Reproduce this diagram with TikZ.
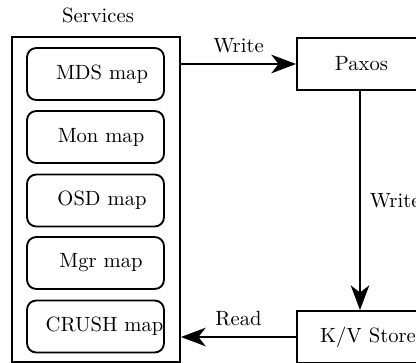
\documentclass[tikz,border=0pt]{standalone}
\usetikzlibrary{arrows.meta}
\begin{document}
\begin{tikzpicture}[x=0.485pt,y=-0.485pt,
  frame/.style={draw,line width=0.9pt,inner sep=0pt},
  mapbox/.style={frame,rounded corners=4.5pt,minimum width=137*0.485pt,minimum height=52*0.485pt},
  bigbox/.style={frame,minimum width=126*0.485pt,minimum height=52*0.485pt},
  txt/.style={inner sep=0pt,font=\normalsize},
  arr/.style={line width=0.9pt,-{Stealth[length=12pt,width=9pt,inset=3.5pt]}}]
\useasboundingbox (0,0) rectangle (416,363);
\clip (0,0) rectangle (416,363);
\node[txt] (svclabel) at (98,15) {Services};
\node[frame,minimum width=168*0.485pt,minimum height=325*0.485pt] (services) at (96,199.5) {};
\node[mapbox] (mds) at (95.5,74) {};
\node[mapbox] (mon) at (95.5,137) {};
\node[mapbox] (osd) at (95.5,200.5) {};
\node[mapbox] (mgr) at (95.5,263) {};
\node[mapbox] (crush) at (95.5,326.5) {};
\node[txt] (mdst) at (102,74) {MDS map};
\node[txt] (mont) at (101,137) {Mon map};
\node[txt] (osdt) at (102,200.5) {OSD map};
\node[txt] (mgrt) at (101,263) {Mgr map};
\node[txt] (crusht) at (104.5,326.5) {CRUSH map};
\node[bigbox] (paxos) at (360,64) {};
\node[txt] (paxost) at (361.5,64) {Paxos};
\node[bigbox] (kv) at (360,337) {};
\node[txt] (kvt) at (368,337) {K/V Store};
\draw[arr] (services.east |- paxos.west) -- node[txt,above=5pt] (w1) {Write} (paxos.west);
\draw[arr] (paxos.south) -- node[txt,right=4.4pt] (w2) {Write} (kv.north);
\draw[arr] (kv.west) -- node[txt,above=5pt] (r1) {Read} (services.east |- kv.west);
\end{tikzpicture}
\end{document}
